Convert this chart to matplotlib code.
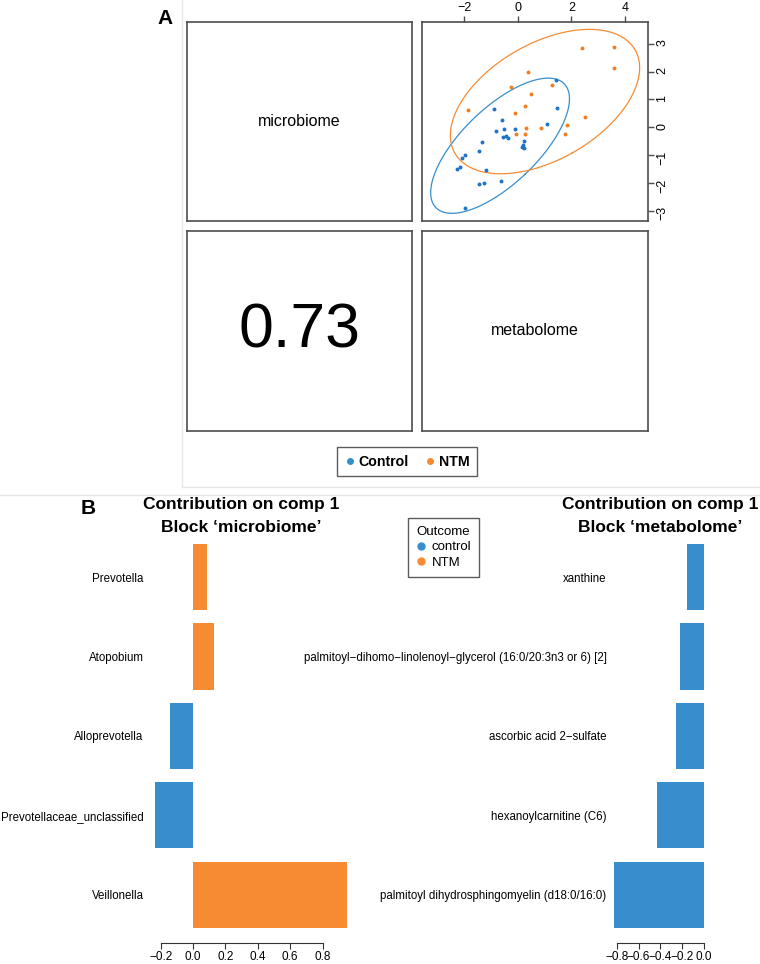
import matplotlib.pyplot as plt
import numpy as np
from matplotlib.lines import Line2D
from matplotlib import rcParams

rcParams['font.family'] = ['Liberation Sans', 'DejaVu Sans']
rcParams['axes.unicode_minus'] = True

# panel A: component scores (x = microbiome, y = metabolome)
control_x = [1.42, -0.89, 1.45, -0.60, 1.09, -0.80, -0.50, -0.12, -0.55, -0.43, -0.36, -1.34, 0.25,
             0.19, 0.17, 0.25, -1.44, -1.95, -2.07, -2.16, -2.26, -1.20, -0.61, -1.24, -1.43, -1.96]
control_y = [1.71, 0.67, 0.69, 0.24, 0.10, -0.13, -0.07, -0.06, -0.35, -0.32, -0.39, -0.52, -0.50,
             -0.64, -0.73, -0.75, -0.85, -0.99, -1.10, -1.44, -1.51, -1.54, -1.93, -1.99, -2.04, -2.89]
ntm_x = [2.40, 3.57, 3.60, 0.37, -0.24, 1.28, 0.51, -1.86, 0.27, -0.12, 2.51, 0.32, 0.86, 1.83,
         -0.05, 0.27, 1.75]
ntm_y = [2.86, 2.88, 2.13, 1.99, 1.46, 1.52, 1.20, 0.62, 0.75, 0.52, 0.37, -0.02, -0.02, 0.07,
         -0.23, -0.23, -0.23]
corr_label = '0.73'
block_names = ['microbiome', 'metabolome']

# panel B: loadings (bottom to top)
micro_names = ['Veillonella', 'Prevotellaceae_unclassified', 'Alloprevotella', 'Atopobium', 'Prevotella']
micro_vals = [0.952, -0.232, -0.144, 0.130, 0.085]
micro_group = ['NTM', 'control', 'control', 'NTM', 'NTM']
metab_names = ['palmitoyl dihydrosphingomyelin (d18:0/16:0)', 'hexanoylcarnitine (C6)',
               'ascorbic acid 2\u2212sulfate',
               'palmitoyl\u2212dihomo\u2212linolenoyl\u2212glycerol (16:0/20:3n3 or 6) [2]', 'xanthine']
metab_vals = [-0.823, -0.430, -0.257, -0.220, -0.153]
metab_group = ['control', 'control', 'control', 'control', 'control']

colors = {'control': '#388ECC', 'NTM': '#F68B33'}
boxcol = '#4d4d4d'

W, H = 760, 964
fig = plt.figure(figsize=(W / 100, H / 100), dpi=100)


def box(x0, y0, x1, y1):
    return [x0 / W, 1 - y1 / H, (x1 - x0) / W, (y1 - y0) / H]


def rlim(lo, hi):
    d = (hi - lo) * 0.04
    return lo - d, hi + d


def ellipse(x, y, level_t=2.4477):
    xy = np.column_stack([x, y])
    c = xy.mean(axis=0)
    cov = np.cov(xy.T)
    vals, vecs = np.linalg.eigh(cov)
    t = np.linspace(0, 2 * np.pi, 200)
    circ = np.column_stack([np.cos(t), np.sin(t)])
    pts = circ @ (vecs * np.sqrt(vals)).T * level_t + c
    return pts[:, 0], pts[:, 1]


# faint panel frames
fig.add_artist(Line2D([181.5 / W, 181.5 / W], [1, 1 - 487 / H], color='#e6e6e6', lw=1))
fig.add_artist(Line2D([181.5 / W, 1], [1 - 487 / H, 1 - 487 / H], color='#e6e6e6', lw=1))
fig.add_artist(Line2D([0, 1], [1 - 495 / H, 1 - 495 / H], color='#e6e6e6', lw=1))

# ---- panel A ----
ax_tl = fig.add_axes(box(186.7, 22, 412.3, 220.7))
ax_tr = fig.add_axes(box(422.3, 22, 648, 220.7))
ax_bl = fig.add_axes(box(186.7, 231, 412.3, 430.7))
ax_br = fig.add_axes(box(422.3, 231, 648, 430.7))
for ax in [ax_tl, ax_tr, ax_bl, ax_br]:
    for s in ax.spines.values():
        s.set_color(boxcol)
        s.set_linewidth(1.2)
for ax in [ax_tl, ax_bl, ax_br]:
    ax.set_xticks([])
    ax.set_yticks([])

ax_tl.text(0.5, 0.5, block_names[0], transform=ax_tl.transAxes, ha='center', va='center', fontsize=11.5)
ax_br.text(0.5, 0.5, block_names[1], transform=ax_br.transAxes, ha='center', va='center', fontsize=11.5)
ax_bl.text(0.5, 0.5, corr_label, transform=ax_bl.transAxes, ha='center', va='center', fontsize=45)

ex_c, ey_c = ellipse(control_x, control_y)
ex_n, ey_n = ellipse(ntm_x, ntm_y)
ax_tr.plot(ex_c, ey_c, color=colors['control'], lw=0.9)
ax_tr.plot(ex_n, ey_n, color=colors['NTM'], lw=0.9)
ax_tr.scatter(control_x, control_y, s=8, color='#1f74c6', zorder=3, linewidths=0)
ax_tr.scatter(ntm_x, ntm_y, s=8, color='#f07f22', zorder=3, linewidths=0)
all_x = np.concatenate([ex_c, ex_n])
all_y = np.concatenate([ey_c, ey_n])
ax_tr.set_xlim(rlim(all_x.min(), all_x.max()))
ax_tr.set_ylim(rlim(all_y.min(), all_y.max()))
ax_tr.set_xticks([-2, 0, 2, 4])
ax_tr.set_yticks([-3, -2, -1, 0, 1, 2, 3])
ax_tr.xaxis.tick_top()
ax_tr.yaxis.tick_right()
ax_tr.tick_params(length=4, width=1, color=boxcol, labelsize=9, pad=2)
ax_tr.tick_params(axis='y', labelrotation=90)

leg_handles = [Line2D([], [], ls='', marker='o', ms=4, color=colors['control']),
               Line2D([], [], ls='', marker='o', ms=4, color=colors['NTM'])]
leg_a = fig.legend(leg_handles, ['Control', 'NTM'], loc='center', bbox_to_anchor=(407 / W, 1 - 461.5 / H),
                   ncol=2, prop={'weight': 'bold', 'size': 10.2}, frameon=True, fancybox=False,
                   edgecolor='#333333', handletextpad=0.2, columnspacing=1.1, handlelength=0.8,
                   borderpad=0.5)
leg_a.get_frame().set_linewidth(1.0)
fig.text(165 / W, 1 - 18 / H, 'A', fontsize=15, fontweight='bold', ha='center', va='center')

# ---- panel B ----
ypos = 0.7 + 1.2 * np.arange(len(micro_vals))
ylim_b = rlim(0.2, 1.2 * len(micro_vals))


def loading_plot(ax, names, vals, groups, ticks):
    ax.barh(ypos, vals, height=1.0, color=[colors[g] for g in groups])
    ax.set_xlim(rlim(min(min(vals), 0), max(max(vals), 0)))
    ax.set_ylim(ylim_b)
    ax.set_yticks(ypos, names)
    ax.tick_params(axis='y', length=0, pad=3, labelsize=8.3)
    ax.set_xticks(ticks)
    ax.tick_params(axis='x', length=4, width=0.8, labelsize=8.5, pad=2, color='#333333')
    for s in ['top', 'right', 'left']:
        ax.spines[s].set_visible(False)
    ax.spines['bottom'].set_bounds(ticks[0], ticks[-1])
    ax.spines['bottom'].set_linewidth(0.8)
    ax.spines['bottom'].set_color('#333333')


ax_l = fig.add_axes(box(147.8, 528.7, 354.8, 943.1))
loading_plot(ax_l, micro_names, micro_vals, micro_group, [-0.2, 0.0, 0.2, 0.4, 0.6, 0.8])
ax_r = fig.add_axes(box(610.7, 528.7, 707.6, 943.1))
loading_plot(ax_r, metab_names, metab_vals, metab_group, [-0.8, -0.6, -0.4, -0.2, 0.0])

titles = [(241, 'Block \u2018microbiome\u2019'), (660, 'Block \u2018metabolome\u2019')]
for cx, block in titles:
    fig.text(cx / W, 1 - 509.5 / H, 'Contribution on comp 1', ha='center', va='baseline',
             fontsize=12.5, fontweight='bold')
    fig.text(cx / W, 1 - 531.5 / H, block, ha='center', va='baseline',
             fontsize=12.5, fontweight='bold')

out_handles = [Line2D([], [], ls='', marker='o', ms=5, color=colors['control']),
               Line2D([], [], ls='', marker='o', ms=5, color=colors['NTM'])]
leg_b = fig.legend(out_handles, ['control', 'NTM'], title='Outcome', loc='upper left',
                   bbox_to_anchor=(408 / W, 1 - 518 / H), prop={'size': 9.5}, title_fontsize=9.5,
                   frameon=True, fancybox=False, edgecolor='#333333', handletextpad=0.4,
                   handlelength=0.8, borderpad=0.6, labelspacing=0.25, borderaxespad=0)
leg_b.get_frame().set_linewidth(1.0)
fig.text(88 / W, 1 - 508 / H, 'B', fontsize=15, fontweight='bold', ha='center', va='center')

fig.savefig('out.png', dpi=100)
